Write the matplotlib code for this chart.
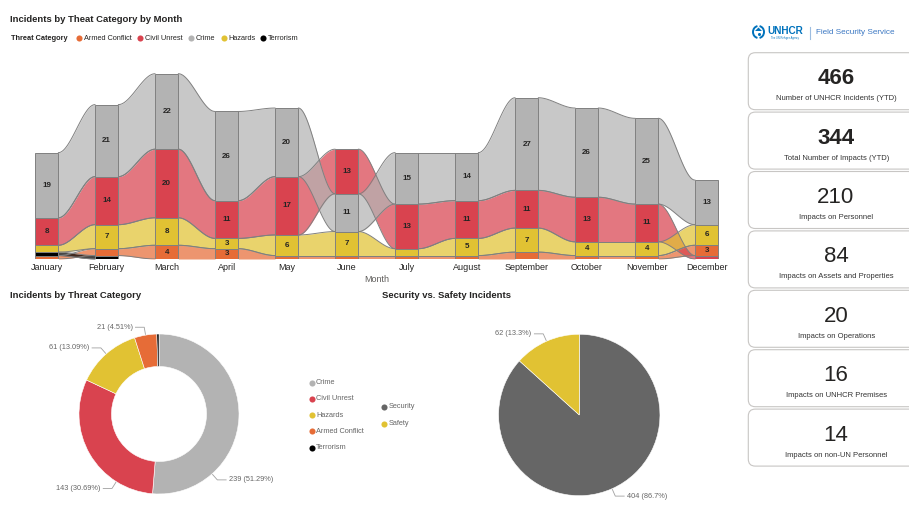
import numpy as np
import matplotlib
matplotlib.use('Agg')
import matplotlib.pyplot as plt
from matplotlib.patches import FancyBboxPatch, Arc, Polygon

plt.rcParams['font.family'] = ['Liberation Sans', 'DejaVu Sans']

# ---- data ----
months = ['January', 'February', 'March', 'April', 'May', 'June', 'July',
          'August', 'September', 'October', 'November', 'December']
categories = ['Armed Conflict', 'Civil Unrest', 'Crime', 'Hazards', 'Terrorism']
armed_conflict = [1, 2, 4, 3, 1, 1, 1, 1, 2, 1, 1, 3]
civil_unrest = [8, 14, 20, 11, 17, 13, 13, 11, 11, 13, 11, 1]
crime = [19, 21, 22, 26, 20, 11, 15, 14, 27, 26, 25, 13]
hazards = [2, 7, 8, 3, 6, 7, 2, 5, 7, 4, 4, 6]
terrorism = [1, 1, 0, 0, 0, 0, 0, 0, 0, 0, 0, 0]

donut_order = ['Crime', 'Civil Unrest', 'Hazards', 'Armed Conflict', 'Terrorism']

incident_types = ['Security', 'Safety']
incident_counts = [404, 62]

kpi_values = ['466', '344', '210', '84', '20', '16', '14']
kpi_labels = ['Number of UNHCR Incidents (YTD)', 'Total Number of Impacts (YTD)',
              'Impacts on Personnel', 'Impacts on Assets and Properties',
              'Impacts on Operations', 'Impacts on UNHCR Premises',
              'Impacts on non-UN Personnel']

cat_colors = {'Armed Conflict': '#E66C37', 'Civil Unrest': '#D9434F',
              'Crime': '#B3B3B3', 'Hazards': '#E1C233', 'Terrorism': '#000000'}
type_colors = ['#666666', '#E1C233']

W, H = 909, 523
fig = plt.figure(figsize=(W / 100, H / 100), dpi=100, facecolor='white')

# overlay axes in pixel units for titles, legends and cards
bg = fig.add_axes([0, 0, 1, 1])
bg.set_xlim(0, W)
bg.set_ylim(H, 0)
bg.axis('off')

dark = '#252423'
grey = '#666666'

# ---- ribbon chart ----
series = [armed_conflict, civil_unrest, crime, hazards, terrorism]
vals = np.array(series, dtype=float)
n_cat, n_m = vals.shape
bottoms = np.zeros_like(vals)
for m in range(n_m):
    order = sorted(range(n_cat), key=lambda c: vals[c, m])
    acc = 0
    for c in order:
        bottoms[c, m] = acc
        acc += vals[c, m]
tops = bottoms + vals

ax = fig.add_axes([16.7 / W, 1 - 259 / H, 720 / W, 199 / H])
ax.patch.set_alpha(0)
bw = 0.39
t = np.linspace(0, 1, 60)
s = t * t * (3 - 2 * t)
for c, cat in enumerate(categories):
    col = cat_colors[cat]
    for m in range(n_m - 1):
        if vals[c, m] == 0 or vals[c, m + 1] == 0:
            continue
        xs = (m + bw / 2) + (1 - bw) * t
        lo = bottoms[c, m] + (bottoms[c, m + 1] - bottoms[c, m]) * s
        hi = tops[c, m] + (tops[c, m + 1] - tops[c, m]) * s
        ax.fill_between(xs, lo, hi, color=col, alpha=0.72, lw=0, zorder=1)
        ax.plot(xs, lo, color='#808080', lw=0.7, zorder=1.5)
        ax.plot(xs, hi, color='#808080', lw=0.7, zorder=1.5)
    idx = [m for m in range(n_m) if vals[c, m] > 0]
    ax.bar(idx, vals[c, idx], bottom=bottoms[c, idx], width=bw, color=col,
           edgecolor='#808080', lw=0.7, zorder=2)
    for m in idx:
        if vals[c, m] >= 3:
            ax.text(m, bottoms[c, m] + vals[c, m] / 2, str(int(vals[c, m])),
                    ha='center', va='center', fontsize=5.8, fontweight='bold',
                    color=dark, zorder=3)

ax.set_xlim(-0.5, n_m - 0.5)
ax.set_ylim(0, 58)
ax.set_xticks(range(n_m))
ax.set_xticklabels(months, fontsize=6.5, color=dark)
ax.tick_params(axis='x', length=0, pad=3)
ax.set_yticks([])
for sp in ax.spines.values():
    sp.set_visible(False)
ax.set_xlabel('Month', fontsize=6.5, color='#605E5C', labelpad=2)

bg.text(10, 19, 'Incidents by Theat Category by Month', fontsize=6.8,
        fontweight='bold', color=dark, va='center')
bg.text(11, 38.3, 'Threat Category', fontsize=5.3, fontweight='bold',
        color=dark, va='center')
leg_x = [79, 140.3, 191, 223.7, 263]
for x, cat in zip(leg_x, categories):
    bg.plot(x, 38.3, 'o', ms=4.4, color=cat_colors[cat], mec='none')
    bg.text(x + 4.5, 38.3, cat, fontsize=5.3, color=dark, va='center')

# ---- donut ----
totals = [int(sum(series[categories.index(k)])) for k in donut_order]
grand = sum(totals)
axd = fig.add_axes([59 / W, 9 / H, 200 / W, 200 / H])
wedges, _ = axd.pie(totals, colors=[cat_colors[k] for k in donut_order],
                    startangle=90, counterclock=False,
                    wedgeprops=dict(width=0.406, edgecolor='white', lw=0.4))
axd.set_xlim(-1.25, 1.25)
axd.set_ylim(-1.25, 1.25)

# where the leader line leaves each wedge (fraction along it, clockwise)
anchor_frac = [0.75, 0.25, 0.5, 0.5]


def leader(a, frac):
    # wedges run clockwise, so start from theta2
    ang = np.deg2rad(a.theta2 - (a.theta2 - a.theta1) * frac)
    x0, y0 = np.cos(ang), np.sin(ang)
    ex, ey = 1.1 * x0, 1.1 * y0
    sgn = 1 if x0 > 0 else -1
    hx = ex + sgn * 0.11
    return (x0 * 1.01, y0 * 1.01), (ex, ey), hx, sgn


for w_, v, fr in zip(wedges[:4], totals[:4], anchor_frac):
    (ax0, ay0), (ex, ey), hx, sgn = leader(w_, fr)
    axd.plot([ax0, ex, hx], [ay0, ey, ey], color='#A0A0A0', lw=0.6, clip_on=False)
    axd.text(hx + sgn * 0.035, ey, f'{v} ({v / grand * 100:.2f}%)', fontsize=5.3,
             color=grey, va='center', ha='left' if sgn > 0 else 'right')

bg.text(10, 295, 'Incidents by Threat Category', fontsize=6.8, fontweight='bold',
        color=dark, va='center')
for i, k in enumerate(donut_order):
    y = 382.7 + i * 16.25
    bg.plot(311.7, y, 'o', ms=4.4, color=cat_colors[k], mec='none')
    bg.text(316, y, k, fontsize=5.3, color=grey, va='center')

# ---- pie ----
pr = 201.75
axp = fig.add_axes([478.4 / W, (H - 314.1 - pr) / H, pr / W, pr / H])
pw, _ = axp.pie(incident_counts, colors=type_colors, startangle=90,
                counterclock=False, wedgeprops=dict(edgecolor='white', lw=0.4))
axp.set_xlim(-1.25, 1.25)
axp.set_ylim(-1.25, 1.25)
ptot = sum(incident_counts)
for w_, v in zip(pw, incident_counts):
    (ax0, ay0), (ex, ey), hx, sgn = leader(w_, 0.5)
    axp.plot([ax0, ex, hx], [ay0, ey, ey], color='#A0A0A0', lw=0.6, clip_on=False)
    axp.text(hx + sgn * 0.035, ey, f'{v} ({v / ptot * 100:.1f}%)', fontsize=5.3,
             color=grey, va='center', ha='left' if sgn > 0 else 'right')

bg.text(382, 295.7, 'Security vs. Safety Incidents', fontsize=6.8,
        fontweight='bold', color=dark, va='center')
for i, k in enumerate(incident_types):
    y = 407 + i * 16.7
    bg.plot(384, y, 'o', ms=4.4, color=type_colors[i], mec='none')
    bg.text(388.5, y, k, fontsize=5.3, color=grey, va='center')

# ---- header logo ----
blue = '#0072BC'
bg.add_patch(Arc((758.5, 32), 11, 12, theta1=100, theta2=260, color=blue, lw=1.4))
bg.add_patch(Arc((758.5, 32), 11, 12, theta1=-80, theta2=80, color=blue, lw=1.4))
bg.add_patch(Polygon([[755, 31], [758.5, 27.5], [762, 31]], closed=True,
                     fc=blue, ec='none'))
bg.plot(758.5, 33.5, 'o', ms=2.2, color=blue, mec='none')
bg.text(767, 31.5, 'UNHCR', fontsize=7.2, fontweight='bold', color=blue,
        va='center')
bg.text(771, 37.8, 'The UN Refugee Agency', fontsize=1.8, color=blue, va='center')
bg.plot([810, 810], [26.5, 38.5], color='#9DBDE0', lw=0.8)
bg.text(816.5, 32.3, 'Field Security Service', fontsize=5.9, color='#3C78C3',
        va='center')

# ---- KPI cards ----
for i, (v, lab) in enumerate(zip(kpi_values, kpi_labels)):
    top = 52.7 + i * 59.4
    bg.add_patch(FancyBboxPatch((748.3, top), 180, 57,
                                boxstyle='round,pad=0,rounding_size=7',
                                fc='white', ec='#C8C6C4', lw=0.8))
    bg.text(836, top + 26, v, fontsize=16, ha='center', va='center', color=dark,
            fontweight='bold' if i < 2 else 'normal')
    bg.text(836.5, top + 46, lab, fontsize=5.5, ha='center', va='center',
            color='#333333')

fig.savefig('out.png', dpi=100, facecolor='white')
